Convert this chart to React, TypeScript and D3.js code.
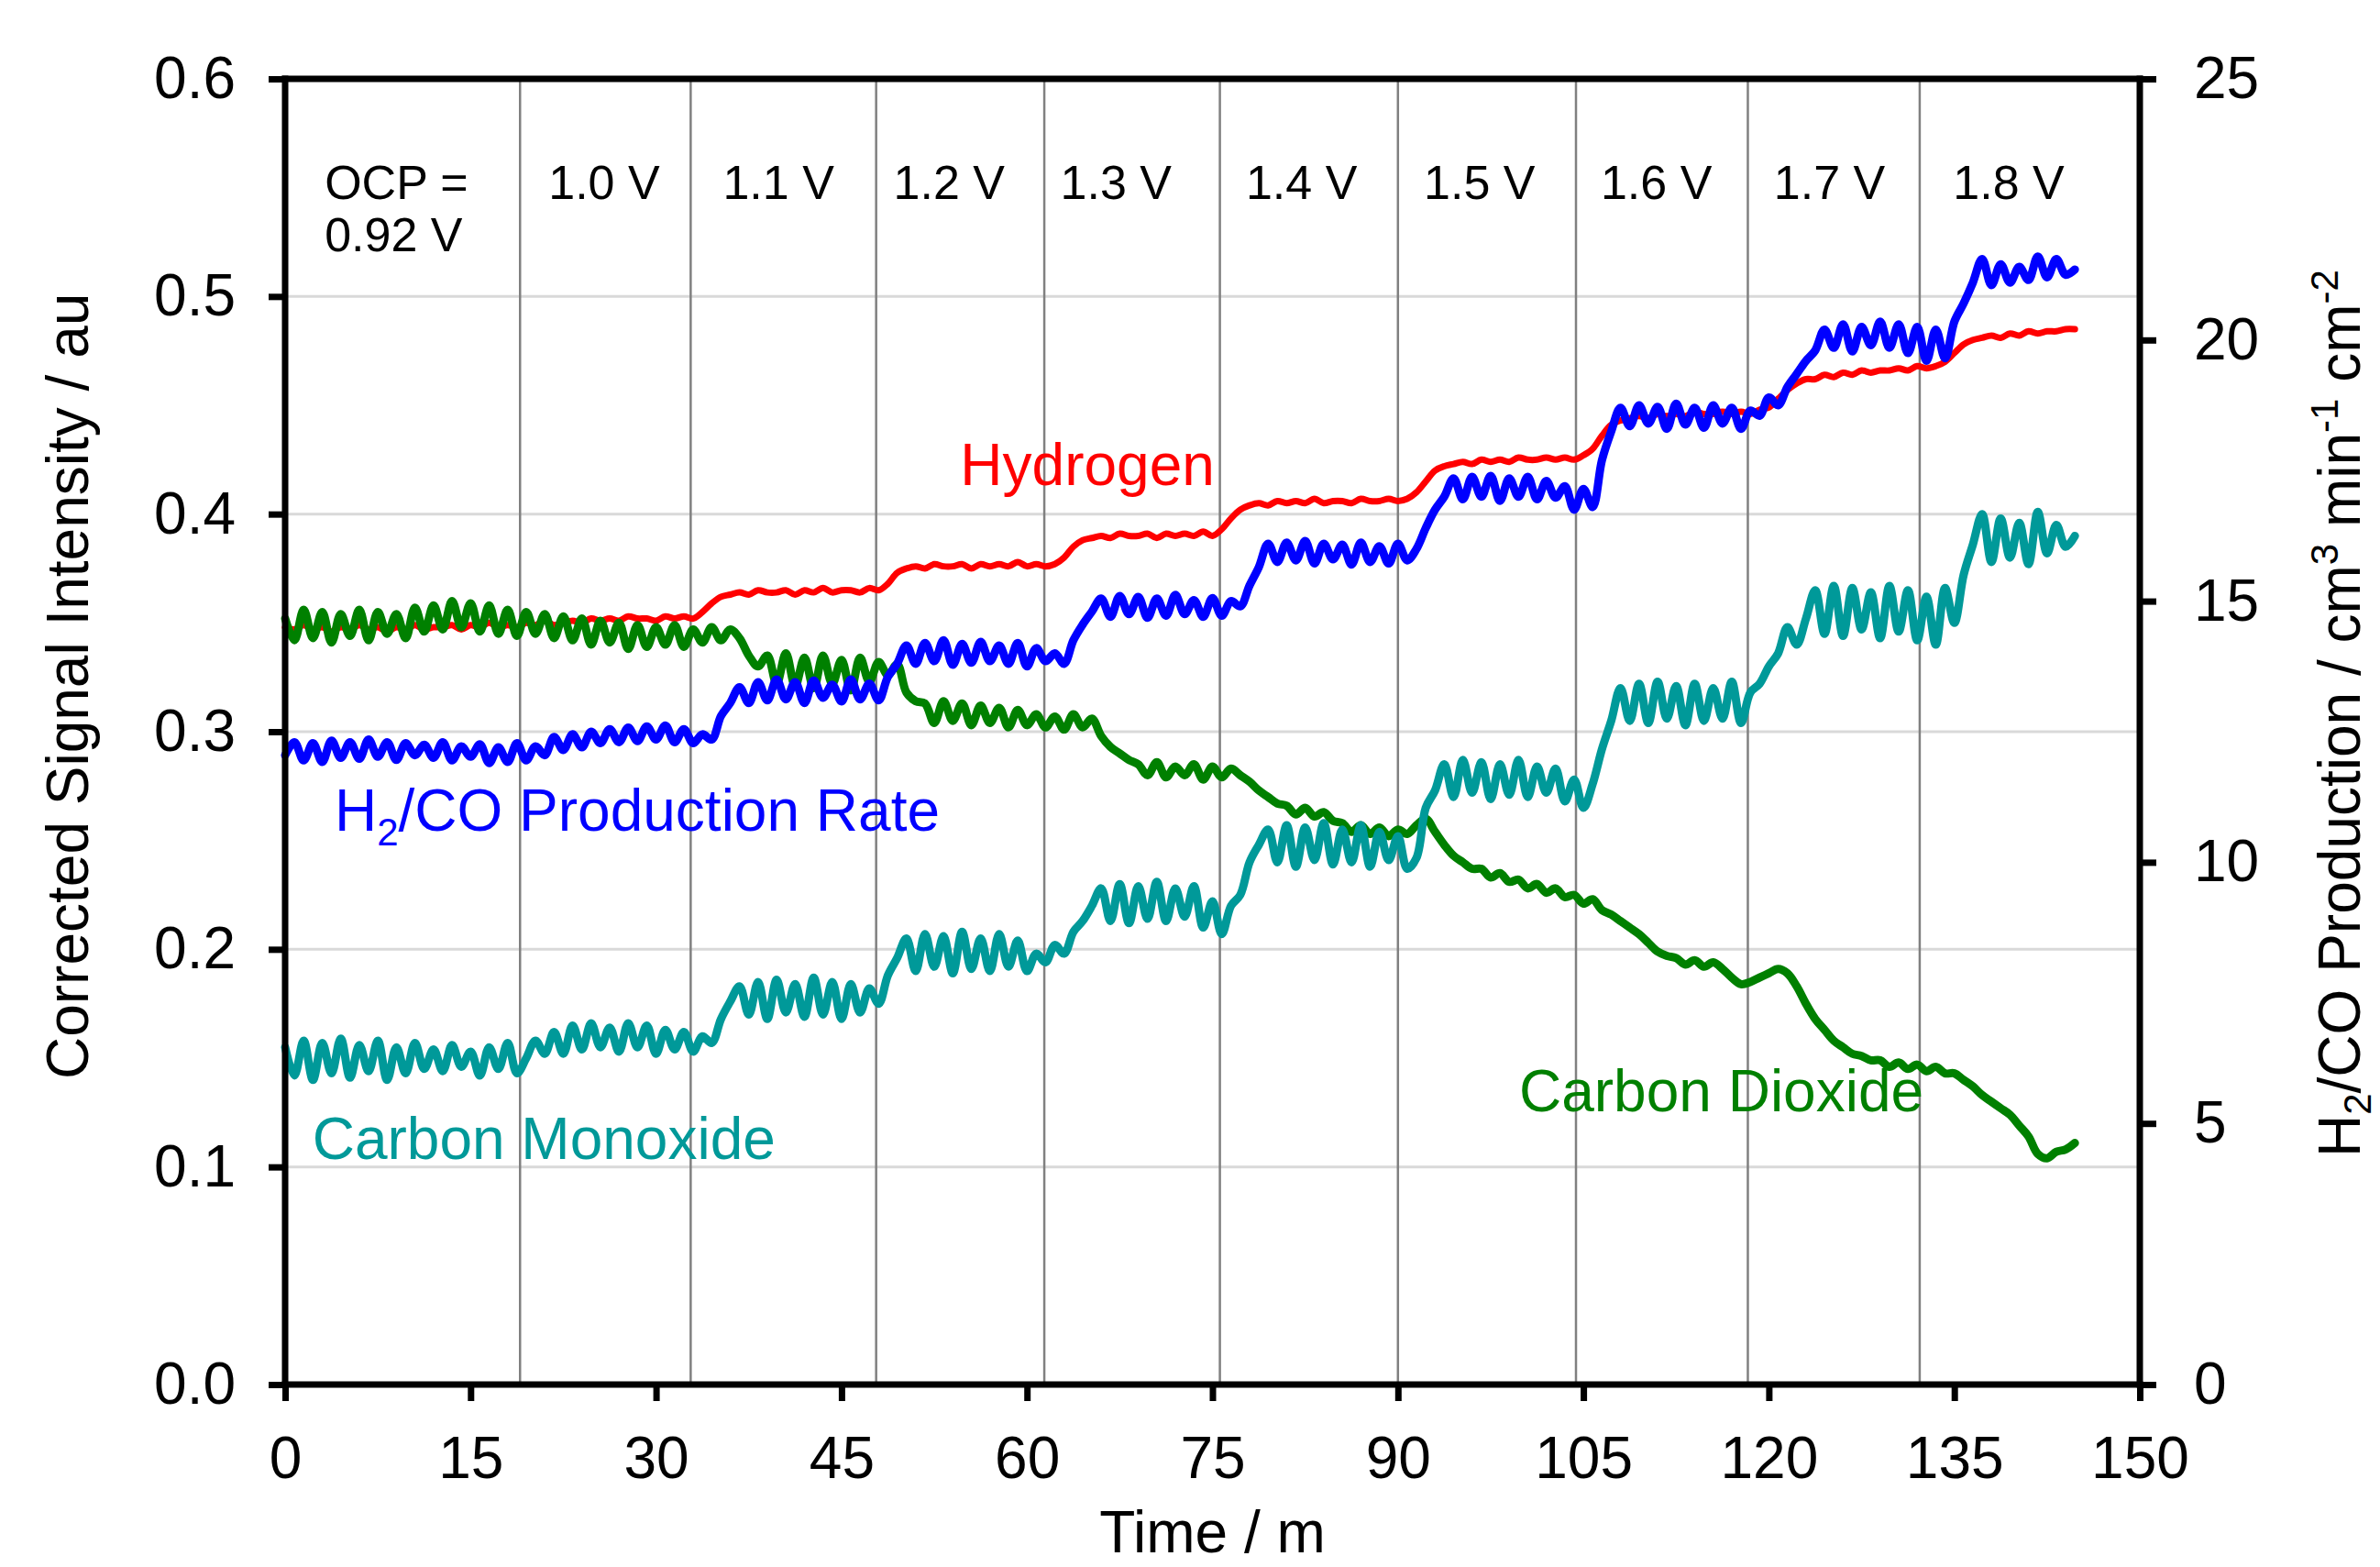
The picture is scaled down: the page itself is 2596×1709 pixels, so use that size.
import React, { useEffect, useRef } from 'react';
import * as d3 from 'd3';

// readings are logged every 0.75 min from t = 0
const SAMPLE_STEP = 0.75;

// Corrected signal intensity / au (left axis)
const hydrogen = [
  0.348, 0.347, 0.349, 0.347, 0.348, 0.346, 0.348, 0.347, 0.349, 0.347, 0.348, 0.346, 0.348, 0.347, 0.349, 0.347,
  0.348, 0.348, 0.349, 0.347, 0.349, 0.348, 0.350, 0.348, 0.349, 0.348,
  0.350, 0.349, 0.351, 0.349, 0.350, 0.351, 0.350, 0.352, 0.351, 0.352, 0.351, 0.353, 0.352, 0.352, 0.351, 0.353,
  0.352, 0.353, 0.352,
  0.355, 0.359, 0.362, 0.363,
  0.364, 0.363, 0.365, 0.364, 0.364, 0.365, 0.363, 0.365, 0.364, 0.366, 0.364, 0.365, 0.365, 0.364, 0.366, 0.365,
  0.368, 0.373, 0.375,
  0.376, 0.375, 0.377, 0.376, 0.376, 0.377, 0.375, 0.377, 0.376, 0.377, 0.376, 0.378, 0.376, 0.377, 0.376, 0.377,
  0.380, 0.385, 0.388, 0.389,
  0.390, 0.389, 0.391, 0.390, 0.390, 0.391, 0.389, 0.391, 0.390, 0.391, 0.390, 0.392, 0.390,
  0.393, 0.398, 0.402, 0.404,
  0.405, 0.404, 0.406, 0.405, 0.406, 0.405, 0.407, 0.405, 0.406, 0.406, 0.405, 0.407, 0.406, 0.406, 0.407, 0.406,
  0.407,
  0.410, 0.415, 0.420, 0.422,
  0.423, 0.424, 0.423, 0.425, 0.424, 0.425, 0.424, 0.426, 0.425, 0.425, 0.426, 0.425, 0.426, 0.425, 0.427,
  0.430, 0.436, 0.441, 0.443,
  0.444, 0.445, 0.444, 0.446, 0.445, 0.446, 0.445, 0.447, 0.446, 0.446, 0.447, 0.446, 0.447, 0.446, 0.448,
  0.449, 0.453, 0.457, 0.460, 0.462,
  0.462, 0.464, 0.463, 0.465, 0.464, 0.466, 0.465, 0.466, 0.466, 0.467, 0.466, 0.468, 0.467, 0.468,
  0.470, 0.474, 0.478, 0.480, 0.481,
  0.482, 0.481, 0.483, 0.482, 0.484, 0.483, 0.484, 0.484, 0.485, 0.485,
];

const carbonDioxide = [
  0.352, 0.342, 0.356, 0.343, 0.355, 0.341, 0.354, 0.344, 0.356, 0.342, 0.355, 0.345, 0.354, 0.343, 0.357, 0.346,
  0.358, 0.347, 0.360, 0.348, 0.359, 0.346, 0.358, 0.345, 0.356, 0.344,
  0.355, 0.345, 0.354, 0.343, 0.353, 0.342, 0.352, 0.340, 0.351, 0.341, 0.350, 0.338, 0.349, 0.339, 0.348, 0.340,
  0.349, 0.339, 0.347,
  0.341, 0.348, 0.342, 0.347, 0.343,
  0.335, 0.330,
  0.335, 0.322, 0.336, 0.321, 0.334, 0.320, 0.335, 0.322, 0.333, 0.319, 0.334, 0.323, 0.332,
  0.326, 0.331,
  0.318, 0.314,
  0.313, 0.304, 0.314, 0.305, 0.313, 0.303, 0.312, 0.304, 0.311, 0.302, 0.310, 0.303, 0.308,
  0.302, 0.307, 0.301, 0.308, 0.302, 0.306,
  0.298, 0.293, 0.290, 0.287,
  0.285, 0.280, 0.286, 0.279, 0.284, 0.280, 0.285, 0.278, 0.284, 0.279, 0.283, 0.280,
  0.277, 0.273, 0.270, 0.267,
  0.266, 0.262, 0.265, 0.261, 0.263, 0.259,
  0.258, 0.254, 0.257, 0.253, 0.256, 0.252, 0.255, 0.253,
  0.257, 0.260, 0.254,
  0.248, 0.243, 0.240, 0.237,
  0.237, 0.233, 0.235, 0.231, 0.232, 0.228, 0.230, 0.226, 0.228, 0.224, 0.225,
  0.221, 0.223, 0.218, 0.216, 0.213, 0.210, 0.207,
  0.203, 0.199, 0.197,
  0.196, 0.193, 0.195, 0.192, 0.194, 0.191,
  0.187, 0.184, 0.185,
  0.187, 0.189, 0.191, 0.189,
  0.183, 0.175, 0.168, 0.163, 0.158,
  0.155, 0.152, 0.151, 0.149,
  0.149, 0.146, 0.148, 0.145, 0.147, 0.144, 0.146, 0.143, 0.143,
  0.140, 0.137, 0.133, 0.130, 0.127,
  0.124, 0.119, 0.114,
  0.106, 0.104,
  0.107, 0.108, 0.111,
];

const carbonMonoxide = [
  0.155, 0.142, 0.158, 0.140, 0.157, 0.143, 0.159, 0.141, 0.156, 0.144, 0.158, 0.140, 0.155, 0.143, 0.157, 0.145,
  0.154, 0.144, 0.156, 0.146, 0.153, 0.142, 0.155, 0.145, 0.157, 0.143,
  0.150, 0.158, 0.152,
  0.162, 0.152, 0.165, 0.154, 0.166, 0.155, 0.164, 0.153, 0.166, 0.155, 0.165, 0.152, 0.163, 0.154, 0.162, 0.153,
  0.160, 0.157, 0.168, 0.176,
  0.183, 0.170, 0.185, 0.168, 0.186, 0.171, 0.184, 0.169, 0.187, 0.170, 0.185, 0.168, 0.184, 0.171, 0.182, 0.175,
  0.188, 0.196,
  0.205, 0.190, 0.207, 0.192, 0.206, 0.189, 0.208, 0.191, 0.205, 0.190, 0.207, 0.192, 0.204, 0.190, 0.198,
  0.194, 0.202, 0.198,
  0.208, 0.213, 0.220,
  0.228, 0.213, 0.230, 0.212, 0.229, 0.214, 0.231, 0.213, 0.228, 0.215, 0.229, 0.210, 0.222, 0.207, 0.220,
  0.225, 0.240, 0.248,
  0.255, 0.240, 0.257, 0.238, 0.256, 0.241, 0.258, 0.239, 0.255, 0.240, 0.257, 0.238, 0.254, 0.241, 0.252, 0.237,
  0.242, 0.265, 0.273,
  0.285, 0.270, 0.287, 0.272, 0.286, 0.269, 0.285, 0.271, 0.287, 0.270, 0.284, 0.272, 0.283, 0.268, 0.278, 0.265,
  0.276,
  0.292, 0.305,
  0.320, 0.305, 0.322, 0.304, 0.323, 0.306, 0.321, 0.303, 0.322, 0.305, 0.320, 0.306, 0.323, 0.304, 0.318, 0.322,
  0.330, 0.336,
  0.348, 0.340, 0.352,
  0.365, 0.345, 0.367, 0.344, 0.366, 0.347, 0.364, 0.343, 0.367, 0.346, 0.365, 0.342,
  0.362, 0.340, 0.366, 0.350,
  0.372, 0.386,
  0.400, 0.378, 0.398, 0.380, 0.396, 0.377, 0.401, 0.382, 0.395, 0.385, 0.390,
];

// H2/CO production rate / cm3 min-1 cm-2 (right axis)
const productionRate = [
  12.05, 12.30, 11.95, 12.28, 11.92, 12.33, 12.00, 12.30, 11.98, 12.35, 12.02, 12.30, 11.96, 12.28, 12.05, 12.25,
  12.00, 12.30, 11.95, 12.22, 12.02, 12.26, 11.90, 12.20, 11.92, 12.28,
  11.95, 12.22, 12.05,
  12.40, 12.15, 12.45, 12.20, 12.50, 12.28, 12.55, 12.30, 12.58, 12.32, 12.60, 12.35, 12.62, 12.30, 12.55, 12.28,
  12.45, 12.35, 12.80, 13.05,
  13.35, 13.05, 13.45, 13.10, 13.50, 13.12, 13.45, 13.05, 13.48, 13.15, 13.40, 13.08, 13.50, 13.12, 13.42, 13.10,
  13.55, 13.80,
  14.15, 13.80, 14.20, 13.85, 14.25, 13.78, 14.18, 13.82, 14.22, 13.85, 14.15, 13.80, 14.20, 13.75, 14.10,
  13.85, 14.00, 13.80,
  14.25, 14.55, 14.80,
  15.05, 14.70, 15.10, 14.75, 15.08, 14.68, 15.05, 14.72, 15.12, 14.75, 15.02, 14.70, 15.06, 14.72, 15.00,
  14.90, 15.30, 15.65,
  16.10, 15.75, 16.12, 15.78, 16.15, 15.72, 16.10, 15.80, 16.08, 15.70, 16.12, 15.75, 16.05, 15.72, 16.10, 15.78,
  16.00, 16.40, 16.75,
  17.00, 17.35, 16.95, 17.38, 17.00, 17.40, 16.92, 17.35, 17.00, 17.38, 16.95, 17.30, 16.98, 17.20, 16.75, 17.15,
  16.80,
  17.70, 18.25,
  18.70, 18.35, 18.75, 18.40, 18.72, 18.30, 18.78, 18.38, 18.70, 18.32, 18.75, 18.40, 18.70, 18.30, 18.65, 18.55,
  18.90, 18.75,
  19.10, 19.35, 19.60,
  19.80, 20.20, 19.85, 20.30, 19.78, 20.25, 19.90, 20.35, 19.85, 20.30, 19.75, 20.25,
  19.60, 20.20, 19.65, 20.35,
  20.70, 21.10,
  21.55, 21.05, 21.45, 21.10, 21.40, 21.15, 21.60, 21.20, 21.55, 21.25, 21.35,
];

// times (min) at which the applied potential was stepped up
const stepTimes = [19, 32.8, 47.8, 61.4, 75.6, 90, 104.4, 118.3, 132.2];
const voltageLabels = ['1.0 V', '1.1 V', '1.2 V', '1.3 V', '1.4 V', '1.5 V', '1.6 V', '1.7 V', '1.8 V'];
const voltageLabelTimes = [25.8, 39.9, 53.7, 67.2, 82.2, 96.6, 110.9, 124.9, 139.4];

const xTicks = [0, 15, 30, 45, 60, 75, 90, 105, 120, 135, 150];
const leftTicks = [0, 0.1, 0.2, 0.3, 0.4, 0.5, 0.6];
const rightTicks = [0, 5, 10, 15, 20, 25];

const FONT = 'Liberation Sans, Arial, sans-serif';

const App = () => {
  const ref = useRef<SVGSVGElement>(null);

  useEffect(() => {
    const svg = d3.select(ref.current);
    svg.selectAll('*').remove();

    const W = 2596;
    const H = 1709;
    const margin = { top: 86, right: 262, bottom: 199, left: 311 };
    const x0 = margin.left;
    const x1 = W - margin.right;
    const y0 = H - margin.bottom;
    const y1 = margin.top;

    const x = d3.scaleLinear().domain([0, 150]).range([x0, x1]);
    const yL = d3.scaleLinear().domain([0, 0.6]).range([y0, y1]);
    const yR = d3.scaleLinear().domain([0, 25]).range([y0, y1]);

    // horizontal gridlines
    svg.append('g')
      .selectAll('line')
      .data(leftTicks.slice(1, -1))
      .enter().append('line')
      .attr('x1', x0).attr('x2', x1)
      .attr('y1', d => yL(d)).attr('y2', d => yL(d))
      .attr('stroke', '#d9d9d9')
      .attr('stroke-width', 3);

    // potential step markers
    svg.append('g')
      .selectAll('line')
      .data(stepTimes)
      .enter().append('line')
      .attr('x1', d => x(d)).attr('x2', d => x(d))
      .attr('y1', y1).attr('y2', y0)
      .attr('stroke', '#808080')
      .attr('stroke-width', 2.5);

    const lineL = d3.line<number>()
      .x((_, i) => x(i * SAMPLE_STEP))
      .y(d => yL(d))
      .curve(d3.curveCatmullRom.alpha(0.5));
    const lineR = d3.line<number>()
      .x((_, i) => x(i * SAMPLE_STEP))
      .y(d => yR(d))
      .curve(d3.curveCatmullRom.alpha(0.5));

    const series = [
      { data: hydrogen, line: lineL, color: '#ff0000', width: 7 },
      { data: carbonDioxide, line: lineL, color: '#008000', width: 9 },
      { data: carbonMonoxide, line: lineL, color: '#009999', width: 9 },
      { data: productionRate, line: lineR, color: '#0000ff', width: 9 },
    ];
    series.forEach(s => {
      svg.append('path')
        .attr('d', s.line(s.data))
        .attr('fill', 'none')
        .attr('stroke', s.color)
        .attr('stroke-width', s.width)
        .attr('stroke-linejoin', 'round')
        .attr('stroke-linecap', 'round');
    });

    // axes
    const styleAxis = (g) => {
      g.select('.domain').remove();
      g.selectAll('.tick line').attr('stroke', '#000').attr('stroke-width', 7);
      g.selectAll('.tick text')
        .attr('fill', '#000')
        .style('font-family', FONT)
        .style('font-size', '64px');
    };

    svg.append('g')
      .attr('transform', `translate(${x0},0)`)
      .call(d3.axisLeft(yL).tickValues(leftTicks).tickSize(18).tickPadding(36).tickFormat(d3.format('.1f')))
      .call(styleAxis);

    svg.append('g')
      .attr('transform', `translate(${x1},0)`)
      .call(d3.axisRight(yR).tickValues(rightTicks).tickSize(18).tickPadding(41).tickFormat(d3.format('d')))
      .call(styleAxis);

    svg.append('g')
      .attr('transform', `translate(0,${y0})`)
      .call(d3.axisBottom(x).tickValues(xTicks).tickSize(18).tickPadding(39).tickFormat(d3.format('d')))
      .call(styleAxis);

    // frame
    const frame = svg.append('g').attr('stroke', '#000').attr('stroke-width', 7);
    frame.append('line').attr('x1', x0).attr('x2', x0).attr('y1', y1 - 3.5).attr('y2', y0 + 3.5);
    frame.append('line').attr('x1', x1).attr('x2', x1).attr('y1', y1 - 3.5).attr('y2', y0 + 3.5);
    frame.append('line').attr('x1', x0 - 3.5).attr('x2', x1 + 3.5).attr('y1', y1).attr('y2', y1);
    frame.append('line').attr('x1', x0 - 3.5).attr('x2', x1 + 3.5).attr('y1', y0).attr('y2', y0);

    const text = (px, py, str, size, color, anchor = 'start') =>
      svg.append('text')
        .attr('x', px).attr('y', py)
        .attr('text-anchor', anchor)
        .attr('fill', color)
        .style('font-family', FONT)
        .style('font-size', `${size}px`)
        .text(str);

    // potential labels
    text(x(3.2), 217, 'OCP =', 52, '#000');
    text(x(3.2), 274, '0.92 V', 52, '#000');
    voltageLabels.forEach((v, i) => text(x(voltageLabelTimes[i]), 217, v, 52, '#000', 'middle'));

    // series labels
    text(x(54.6), 529, 'Hydrogen', 64, '#ff0000');
    text(x(2.2), 1264, 'Carbon Monoxide', 64, '#009999');
    text(x(99.8), 1212, 'Carbon Dioxide', 64, '#008000');
    const rate = text(x(4), 906, 'H', 64, '#0000ff');
    rate.append('tspan').attr('dy', 16).style('font-size', '42px').text('2');
    rate.append('tspan').attr('dy', -16).text('/CO Production Rate');

    // axis titles
    text((x0 + x1) / 2, 1693, 'Time / m', 64, '#000', 'middle');

    svg.append('text')
      .attr('transform', 'translate(96,1177) rotate(-90)')
      .attr('fill', '#000')
      .style('font-family', FONT)
      .style('font-size', '64px')
      .text('Corrected Signal Intensity / au');

    const rt = svg.append('text')
      .attr('transform', 'translate(2574,1262) rotate(-90)')
      .attr('fill', '#000')
      .style('font-family', FONT)
      .style('font-size', '64px');
    rt.append('tspan').text('H');
    rt.append('tspan').attr('dy', 12).style('font-size', '42px').text('2');
    rt.append('tspan').attr('dy', -12).text('/CO Production / cm');
    rt.append('tspan').attr('dy', -24).style('font-size', '42px').text('3');
    rt.append('tspan').attr('dy', 24).text(' min');
    rt.append('tspan').attr('dy', -24).style('font-size', '42px').text('-1');
    rt.append('tspan').attr('dy', 24).text(' cm');
    rt.append('tspan').attr('dy', -24).style('font-size', '42px').text('-2');
  }, []);

  return (
    <svg
      ref={ref}
      width={2596}
      height={1709}
      style={{ position: 'absolute', left: 0, top: 0, background: '#fff' }}
    />
  );
};

export default App;
